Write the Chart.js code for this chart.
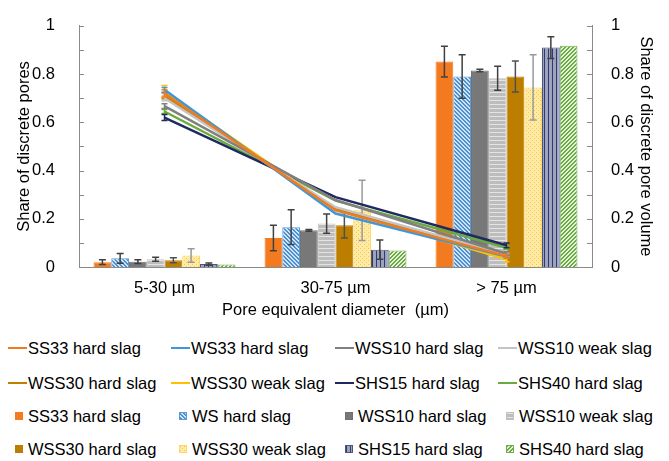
<!DOCTYPE html>
<html lang="en">
<head>
  <meta charset="UTF-8" />
  <title>Pore size distribution</title>
  <script src="https://cdn.jsdelivr.net/npm/chart.js"></script>
  <style>
    body { margin: 0; background: #fff; font-family: "Liberation Sans", Arial, sans-serif; }
    #wrap { position: relative; width: 669px; height: 461px; overflow: hidden; }
    #pore-chart { position: absolute; left: 0; top: 0; }
    .leg { position: absolute; font-size: 16.5px; line-height: 20px; color: #000; white-space: nowrap; }
    .leg .mk { position: absolute; }
  </style>
</head>
<body>
  <div id="wrap">
    <canvas id="pore-chart" width="669" height="330"></canvas>
    <div id="legend"></div>
  </div>

  <script>
    // --- data ---
    const categories = ['5-30 µm', '30-75 µm', '> 75 µm'];
    const lineNames = ['SS33 hard slag', 'WS33 hard slag', 'WSS10 hard slag', 'WSS10 weak slag',
                       'WSS30 hard slag', 'WSS30 weak slag', 'SHS15 hard slag', 'SHS40 hard slag'];
    const barNames = ['SS33 hard slag', 'WS hard slag', 'WSS10 hard slag', 'WSS10 weak slag',
                      'WSS30 hard slag', 'WSS30 weak slag', 'SHS15 hard slag', 'SHS40 hard slag'];
    const yTicks = [0, 0.2, 0.4, 0.6, 0.8, 1];

    // share of discrete pore volume (lines, right axis)
    const volSS33 = [0.72, 0.235, 0.045];
    const volWS33 = [0.735, 0.222, 0.043];
    const volWSS10hard = [0.667, 0.278, 0.055];
    const volWSS10weak = [0.70, 0.248, 0.052];
    const volWSS30hard = [0.71, 0.24, 0.05];
    const volWSS30weak = [0.728, 0.24, 0.032];
    const volSHS15 = [0.62, 0.29, 0.09];
    const volSHS40 = [0.645, 0.275, 0.08];
    const volErrSS33 = [0.015, 0, 0.008];
    const volErrWS33 = [0.01, 0, 0.006];
    const volErrWSS10hard = [0.01, 0, 0.008];
    const volErrWSS10weak = [0.01, 0, 0.006];
    const volErrWSS30hard = [0.012, 0, 0.008];
    const volErrWSS30weak = [0.025, 0, 0.01];
    const volErrSHS15 = [0.012, 0, 0.01];
    const volErrSHS40 = [0.008, 0, 0.006];

    // share of discrete pores (bars, left axis)
    const numSS33 = [0.02, 0.12, 0.852];
    const numWS = [0.036, 0.165, 0.79];
    const numWSS10hard = [0.022, 0.152, 0.815];
    const numWSS10weak = [0.032, 0.18, 0.783];
    const numWSS30hard = [0.028, 0.173, 0.79];
    const numWSS30weak = [0.048, 0.235, 0.745];
    const numSHS15 = [0.012, 0.072, 0.91];
    const numSHS40 = [0.01, 0.068, 0.918];
    const numErrSS33 = [0.01, 0.053, 0.064];
    const numErrWS = [0.02, 0.072, 0.09];
    const numErrWSS10hard = [0.008, 0.004, 0.005];
    const numErrWSS10weak = [0.008, 0.04, 0.05];
    const numErrWSS30hard = [0.01, 0.053, 0.064];
    const numErrWSS30weak = [0.028, 0.125, 0.135];
    const numErrSHS15 = [0.005, 0.04, 0.045];
    const numErrSHS40 = [0, 0, 0];

    // --- fills ---
    function makeTile(kind, fg, bg) {
      const c = document.createElement('canvas');
      const g = c.getContext('2d');
      c.width = c.height = 4;
      g.fillStyle = bg;
      g.fillRect(0, 0, 4, 4);
      g.fillStyle = fg;
      for (let i = 0; i < 4; i++) {
        if (kind === 'down') { g.fillRect(i, i, 1, 1); g.fillRect(i, (i + 1) % 4, 1, 1); }
        if (kind === 'up') { g.fillRect(i, 3 - i, 1, 1); g.fillRect(i, (4 - i) % 4, 1, 1); }
        if (kind === 'hstripe') { g.fillRect(0, 0, 4, 1); }
        if (kind === 'vstripe') { g.fillRect(0, 0, 1, 4); }
        if (kind === 'dots') { g.fillRect(0, 0, 1, 1); g.fillRect(2, 2, 1, 1); }
      }
      return c;
    }
    const tiles = [
      null,
      makeTile('down', '#4a90d2', '#cfe3f5'),
      null,
      makeTile('hstripe', '#e4e4e4', '#bdbdbd'),
      null,
      makeTile('dots', '#f7c845', '#ffeaa6'),
      makeTile('vstripe', '#2f3b6e', '#9ea3bd'),
      makeTile('up', '#6aaa3e', '#e6f1dd')
    ];
    const lineColors = ['#f07c22', '#3d97da', '#808080', '#c4c4c4', '#bf8000', '#ffc000', '#1f2a60', '#6aaa3e'];
    const barSolid = ['#f47a20', '#5b9bd5', '#787878', '#bfbfbf', '#bd7e00', '#ffe08a', '#7c829f', '#8cc06a'];
    const barBorder = ['#f47a20', '#5b9bd5', '#707070', '#bfbfbf', '#bd7e00', '#ffd966', '#4a5580', '#70ad47'];
    const barErrColor = ['#404040', '#404040', '#404040', '#404040', '#505050', '#999999', '#404040', '#404040'];

    const ctx = document.getElementById('pore-chart').getContext('2d');
    const barFill = tiles.map((t, i) => t ? ctx.createPattern(t, 'repeat') : barSolid[i]);

    const lineData = [volSS33, volWS33, volWSS10hard, volWSS10weak, volWSS30hard, volWSS30weak, volSHS15, volSHS40];
    const lineErr = [volErrSS33, volErrWS33, volErrWSS10hard, volErrWSS10weak, volErrWSS30hard, volErrWSS30weak, volErrSHS15, volErrSHS40];
    const barData = [numSS33, numWS, numWSS10hard, numWSS10weak, numWSS30hard, numWSS30weak, numSHS15, numSHS40];
    const barErr = [numErrSS33, numErrWS, numErrWSS10hard, numErrWSS10weak, numErrWSS30hard, numErrWSS30weak, numErrSHS15, numErrSHS40];

    const datasets = [];
    barData.forEach((d, i) => datasets.push({
      type: 'bar', label: barNames[i], data: d, yAxisID: 'y', order: 1,
      backgroundColor: barFill[i], borderColor: barBorder[i], borderWidth: 1,
      errors: barErr[i], errorColor: barErrColor[i], capWidth: 3.5
    }));
    lineData.forEach((d, i) => datasets.push({
      type: 'line', label: lineNames[i], data: d, yAxisID: 'y2', order: 0,
      borderColor: lineColors[i], borderWidth: 2.5, pointRadius: 0, tension: 0, fill: false,
      errors: lineErr[i], errorColor: lineColors[i], capWidth: 3
    }));

    // error bars, drawn right after their own dataset
    const errorBars = {
      id: 'errorBars',
      afterDatasetDraw(chart, args) {
        const ds = chart.data.datasets[args.index];
        if (!ds.errors) return;
        const scale = chart.scales[ds.yAxisID];
        const c = chart.ctx;
        c.save();
        c.strokeStyle = ds.errorColor;
        c.lineWidth = 1.5;
        args.meta.data.forEach((el, i) => {
          const e = ds.errors[i];
          if (!e) return;
          const v = ds.data[i];
          const top = scale.getPixelForValue(v + e);
          const bot = scale.getPixelForValue(v - e);
          const w = ds.capWidth;
          c.beginPath();
          c.moveTo(el.x, top); c.lineTo(el.x, bot);
          c.moveTo(el.x - w, top); c.lineTo(el.x + w, top);
          c.moveTo(el.x - w, bot); c.lineTo(el.x + w, bot);
          c.stroke();
        });
        c.restore();
      }
    };

    // small tick marks pointing into the plot
    const innerTicks = {
      id: 'innerTicks',
      afterDraw(chart) {
        const c = chart.ctx;
        c.save();
        c.strokeStyle = '#8a8a8a';
        c.lineWidth = 1;
        ['y', 'y2'].forEach(id => {
          const s = chart.scales[id];
          const x = id === 'y' ? s.right : s.left;
          const dir = id === 'y' ? 1 : -1;
          s.ticks.forEach(t => {
            const py = Math.round(s.getPixelForValue(t.value)) + 0.5;
            c.beginPath();
            c.moveTo(x, py);
            c.lineTo(x + dir * 5, py);
            c.stroke();
          });
        });
        c.restore();
      }
    };

    const font = { family: '"Liberation Sans", Arial, sans-serif', size: 16.5 };
    const tickLabel = v => {
      const r = Math.round(v * 10) / 10;
      return yTicks.some(t => Math.abs(t - r) < 1e-6) ? String(r) : '';
    };
    const yAxis = (pos, title, pad, width, titlePad) => ({
      type: 'linear', position: pos, min: 0, max: 1,
      grid: { display: false },
      border: { display: true, color: '#8a8a8a' },
      ticks: { stepSize: 0.1, autoSkip: false, callback: tickLabel, font, color: '#000', padding: pad },
      title: { display: true, text: title, font, color: '#000', padding: { top: titlePad, bottom: 0 } },
      afterFit: s => { s.width = width; }
    });

    new Chart(ctx, {
      data: { labels: categories, datasets },
      options: {
        responsive: false,
        animation: false,
        devicePixelRatio: 1,
        categoryPercentage: 0.83,
        barPercentage: 1,
        layout: { padding: { top: 19, bottom: 8, left: 0, right: 0 } },
        plugins: { legend: { display: false }, tooltip: { enabled: false } },
        scales: {
          x: {
            grid: { display: false },
            border: { display: true, color: '#8a8a8a' },
            ticks: { font, color: '#000', padding: 4 },
            title: { display: true, text: 'Pore equivalent diameter  (µm)', font, color: '#000', padding: { top: 0, bottom: 2 } },
            afterFit: s => { s.height = 55; }
          },
          y: yAxis('left', 'Share of discrete pores', 16, 79, 14.6),
          y2: yAxis('right', 'Share of discrete pore volume', 11, 77, 14)
        }
      },
      plugins: [errorBars, innerTicks]
    });

    // --- legend: 4 x 4 grid below the plot ---
    const legend = document.getElementById('legend');
    const rowY = [348, 383, 416, 449];
    const colLine = [28, 191, 355, 518];
    const colBox = [28, 192, 358, 519];
    const addItem = (text, left, cy, marker) => {
      const d = document.createElement('div');
      d.className = 'leg';
      d.style.left = left + 'px';
      d.style.top = (cy - 10) + 'px';
      d.textContent = text;
      marker.className = 'mk';
      d.appendChild(marker);
      legend.appendChild(d);
    };
    lineNames.forEach((name, i) => {
      const m = document.createElement('span');
      Object.assign(m.style, { left: '-20px', top: '9px', width: '19px', height: '2px', background: lineColors[i] });
      addItem(name, colLine[i % 4], rowY[Math.floor(i / 4)], m);
    });
    barNames.forEach((name, i) => {
      const m = document.createElement('span');
      const bg = tiles[i] ? `url(${tiles[i].toDataURL()})` : barSolid[i];
      Object.assign(m.style, { left: '-13px', top: '6px', width: '8px', height: '8px', background: bg,
        boxSizing: 'border-box', border: '1px solid ' + barBorder[i] });
      addItem(name, colBox[i % 4], rowY[2 + Math.floor(i / 4)], m);
    });
  </script>
</body>
</html>
